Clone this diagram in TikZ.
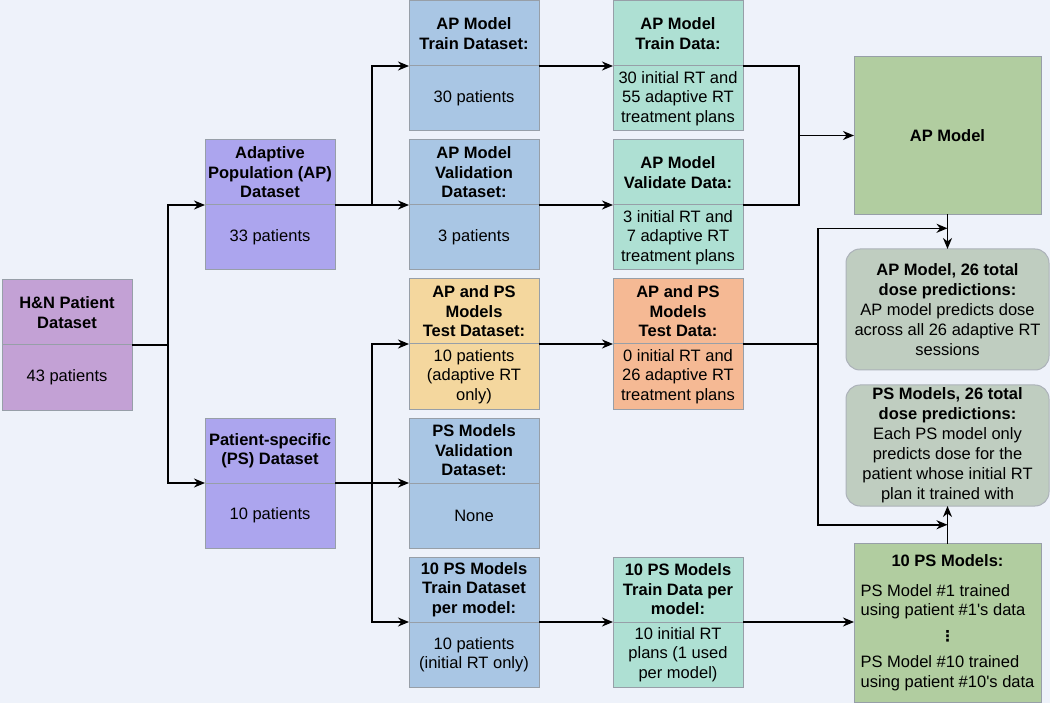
\documentclass[tikz,border=0pt]{standalone}
\usepackage{fontspec}
\setmainfont{Liberation Sans}
\newfontfamily\dotsfont{DejaVu Sans}
\usetikzlibrary{positioning,arrows.meta,calc}
\definecolor{bgc}{HTML}{EEF2FA}
\definecolor{edgec}{HTML}{979FA8}
\definecolor{cHN}{HTML}{C3A1D5}
\definecolor{cDS}{HTML}{ACA5EE}
\definecolor{cBlue}{HTML}{A9C6E4}
\definecolor{cTeal}{HTML}{AEE0D3}
\definecolor{cYel}{HTML}{F4D79E}
\definecolor{cOra}{HTML}{F5B994}
\definecolor{cGrn}{HTML}{B1CDA0}
\definecolor{cGry}{HTML}{BFCDC0}
\tikzset{
  hd/.style={draw=edgec, line width=1pt, outer sep=0pt, minimum width=130pt, minimum height=65pt, inner sep=1pt, align=center, font=\fontsize{16.5}{19.5}\selectfont\bfseries},
  bd/.style={hd, font=\fontsize{16.5}{19.5}\selectfont},
  mdl/.style={draw=edgec, line width=1pt, outer sep=0pt, fill=cGrn, minimum width=187pt, minimum height=158pt, inner sep=1pt, align=center, font=\fontsize{16.5}{19.5}\selectfont},
  rnd/.style={draw=edgec!80, line width=1pt, outer sep=0pt, fill=cGry, rounded corners=14pt, minimum width=203pt, minimum height=121pt, inner sep=1pt, align=center, font=\fontsize{16.5}{20}\selectfont},
  arr/.style={-{Stealth[length=11pt,width=9pt,inset=3.5pt]}, line width=1.5pt},
  ln/.style={line width=1.5pt},
}
\begin{document}
\begin{tikzpicture}[x=1pt,y=-1pt]
\fill[bgc] (0,0) rectangle (1050,703);
\useasboundingbox (0,0) rectangle (1050,703);
% first two columns
\node[hd, fill=cHN] (hn) at (67,312.5) {H\&N Patient\\Dataset};
\node[bd, fill=cHN, below=0pt of hn] (hnb) {43 patients};
\node[hd, fill=cDS] (apds) at (270,172.5) {Adaptive\\Population (AP)\\Dataset};
\node[bd, fill=cDS, below=0pt of apds] (apdsb) {33 patients};
\node[hd, fill=cDS] (psds) at (270,450.5) {Patient-specific\\(PS) Dataset};
\node[bd, fill=cDS, below=0pt of psds] (psdsb) {10 patients};
% datasets
\node[hd, fill=cBlue] (aptr) at (474,33.5) {AP Model\\Train Dataset:};
\node[bd, fill=cBlue, below=0pt of aptr] (aptrb) {30 patients};
\node[hd, fill=cBlue] (apva) at (474,172.5) {AP Model\\Validation\\Dataset:};
\node[bd, fill=cBlue, below=0pt of apva] (apvab) {3 patients};
\node[hd, fill=cYel] (test) at (474,311.5) {AP and PS\\Models\\Test Dataset:};
\node[bd, fill=cYel, below=0pt of test] (testb) {10 patients\\(adaptive RT\\only)};
\node[hd, fill=cBlue] (psva) at (474,450.5) {PS Models\\Validation\\Dataset:};
\node[bd, fill=cBlue, below=0pt of psva] (psvab) {None};
\node[hd, fill=cBlue] (pstr) at (474,589.5) {10 PS Models\\Train Dataset\\per model:};
\node[bd, fill=cBlue, below=0pt of pstr] (pstrb) {10 patients\\(initial RT only)};
% data
\node[hd, fill=cTeal, right=74pt of aptr] (aptrd) {AP Model\\Train Data:};
\node[bd, fill=cTeal, below=0pt of aptrd] (aptrdb) {30 initial RT and\\55 adaptive RT\\treatment plans};
\node[hd, fill=cTeal, right=74pt of apva] (apvad) {AP Model\\Validate Data:};
\node[bd, fill=cTeal, below=0pt of apvad] (apvadb) {3 initial RT and\\7 adaptive RT\\treatment plans};
\node[hd, fill=cOra, right=74pt of test] (testd) {AP and PS\\Models\\Test Data:};
\node[bd, fill=cOra, below=0pt of testd] (testdb) {0 initial RT and\\26 adaptive RT\\treatment plans};
\node[hd, fill=cTeal, right=74pt of pstr] (pstrd) {10 PS Models\\Train Data per\\model:};
\node[bd, fill=cTeal, below=0pt of pstrd] (pstrdb) {10 initial RT\\plans (1 used\\per model)};
% models and outputs
\node[mdl] (apm) at (947.5,135.5) {\textbf{AP Model}};
\node[rnd] (apout) at (947.5,309.5) {\textbf{AP Model, 26 total}\\\textbf{dose predictions:}\\AP model predicts dose\\across all 26 adaptive RT\\sessions};
\node[rnd] (psout) at (947.5,445.5) {\textbf{PS Models, 26 total}\\\textbf{dose predictions:}\\Each PS model only\\predicts dose for the\\patient whose initial RT\\plan it trained with};
\node[mdl, minimum height=159pt] (psm) at (947.5,623) {\begin{tabular}{@{}l@{}}
\multicolumn{1}{@{}c@{}}{\textbf{10 PS Models:}}\\[10pt]
PS Model \#1 trained\\
using patient \#1\textquotesingle s data\\[6pt]
\multicolumn{1}{@{}c@{}}{\dotsfont\bfseries\fontsize{15}{15}\selectfont ⋮}\\[7pt]
PS Model \#10 trained\\
using patient \#10\textquotesingle s data
\end{tabular}};
% junctions
\coordinate (j1) at ($(hn.south east)+(36pt,0)$);
\coordinate (j2) at ($(apds.south east)+(37pt,0)$);
\coordinate (j3) at ($(psds.south east)+(37pt,0)$);
\coordinate (j4) at ($(aptrd.south east)!0.5!(apvad.south east)+(56pt,0)$);
\coordinate (j5) at ($(testd.south east)+(75pt,0)$);
\coordinate (apin) at ($(apm.south)!0.4!(apout.north)$);
\coordinate (psin) at ($(psout.south)!0.5!(psm.north)$);
% connectors
\draw[arr] (hn.south east) -- (j1) |- (apds.south west);
\draw[arr] (j1) |- (psds.south west);
\draw[arr] (apds.south east) -- (apva.south west);
\draw[arr] (j2) |- (aptr.south west);
\draw[arr] (psds.south east) -- (psva.south west);
\draw[arr] (j3) |- (test.south west);
\draw[arr] (j3) |- (pstr.south west);
\draw[arr] (aptr.south east) -- (aptrd.south west);
\draw[arr] (apva.south east) -- (apvad.south west);
\draw[arr] (test.south east) -- (testd.south west);
\draw[arr] (pstr.south east) -- (pstrd.south west);
\draw[ln] (aptrd.south east) -| (j4) |- (apvad.south east);
\draw[arr] (j4) -- (apm.west);
\draw[ln] (testd.south east) -- (j5);
\draw[arr] (j5) |- (apin);
\draw[arr] (j5) |- (psin);
\draw[arr] (apm.south) -- (apout.north);
\draw[arr] (psm.north) -- (psout.south);
\draw[arr] (pstrd.south east) -- (pstrd.south east -| psm.west);
\end{tikzpicture}
\end{document}
